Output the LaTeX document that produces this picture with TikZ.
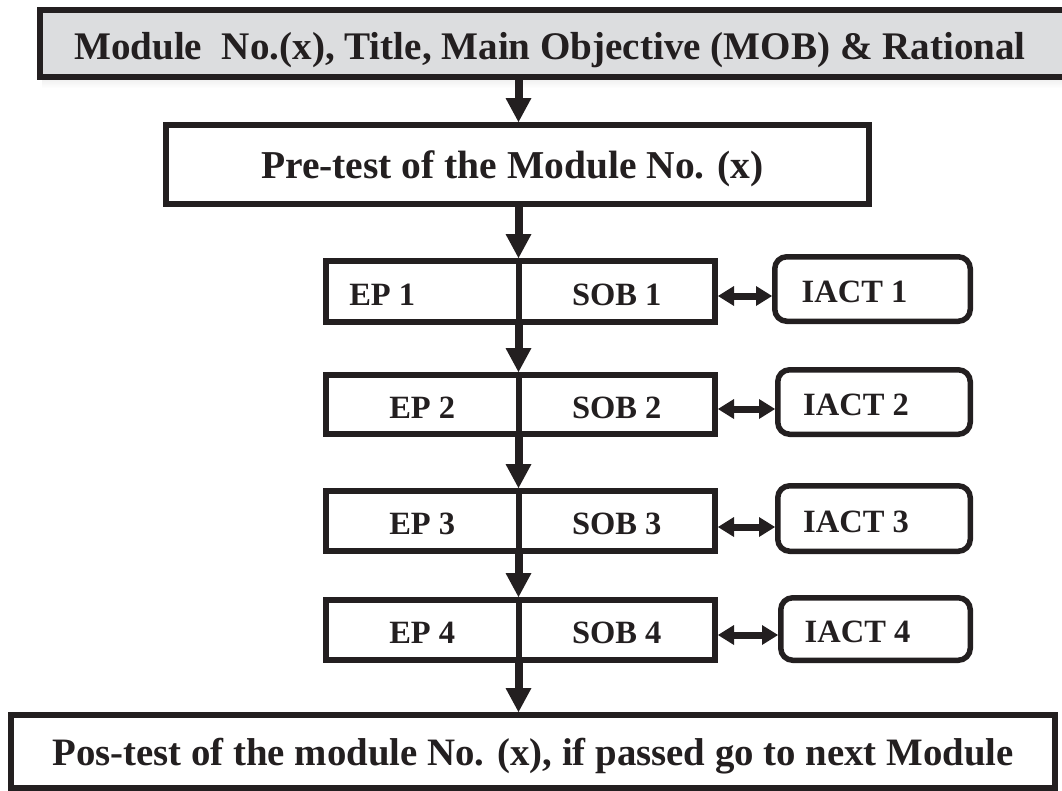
\documentclass[tikz,border=0pt]{standalone}
\usepackage{fontspec}
\setmainfont{Liberation Serif}
\usetikzlibrary{arrows.meta}
\definecolor{ink}{HTML}{231F20}
\definecolor{panel}{HTML}{DCDDDF}
\definecolor{shade}{HTML}{8A8B8D}
\newcommand\boxfontL{\fontsize{39.5}{44}\selectfont\bfseries}
\newcommand\boxfontT{\fontsize{39.1}{44}\selectfont\bfseries}
\newcommand\boxfontB{\fontsize{38.8}{44}\selectfont\bfseries}
\newcommand\boxfontS{\fontsize{32.5}{36}\selectfont\bfseries}

\begin{document}
\begin{tikzpicture}[
  x=1pt, y=-1pt,
  pad/.style={execute at end node={\hspace*{#1}}},
  bigbox/.style={draw=ink, line width=6pt, inner sep=0pt, outer sep=0pt,
    font=\boxfontL, text=ink, text height=28pt, text depth=0pt},
  half/.style={draw=ink, line width=6pt, inner sep=0pt, outer sep=0pt,
    font=\boxfontS, text=ink, text height=27.5pt, text depth=0pt},
  act/.style={draw=ink, line width=5.5pt, rounded corners=12pt, inner sep=0pt,
    outer sep=0pt, font=\boxfontS, text=ink, text height=27.5pt, text depth=0pt,
    pad=36pt},
  flow/.style={draw=ink, line width=8pt,
    -{Triangle[length=24pt,width=26pt,line width=0pt]}, shorten >=3pt},
  link/.style={draw=ink, line width=7pt,
    {Triangle[length=16pt,width=20pt,line width=0pt]}-{Triangle[length=16pt,width=20pt,line width=0pt]},
    shorten <=3pt, shorten >=2.75pt}
]
\clip (0,0) rectangle (1062,790);

% title bar with its drop shadow
\fill[shade] (42,15) rectangle (1090,88);
\node[bigbox, font=\boxfontT, fill=panel, minimum width=1037pt, minimum height=67pt,
  text height=31pt, pad=17pt] (head) at (558.5,43.5)
  {Module\ \ No.(x), Title, Main Objective (MOB) \& Rational};

% pre-test
\node[bigbox, fill=white, minimum width=703pt, minimum height=79pt, pad=10pt]
  (pre) at (517.5,164.5) {Pre-test of the Module No. (x)};

% EP / SOB rows
\node[half, minimum width=192.5pt, minimum height=61pt, pad=80pt] (ep1) at (422.25,291.5) {EP 1};
\node[half, minimum width=196.5pt, minimum height=61pt] (sob1) at (616.75,291.5) {SOB 1};
\node[half, minimum width=192.5pt, minimum height=59pt] (ep2) at (422.25,404.5) {EP 2};
\node[half, minimum width=196.5pt, minimum height=59pt] (sob2) at (616.75,404.5) {SOB 2};
\node[half, minimum width=192.5pt, minimum height=60pt] (ep3) at (422.25,521) {EP 3};
\node[half, minimum width=196.5pt, minimum height=60pt] (sob3) at (616.75,521) {SOB 3};
\node[half, minimum width=192.5pt, minimum height=60pt] (ep4) at (422.25,630) {EP 4};
\node[half, minimum width=196.5pt, minimum height=60pt] (sob4) at (616.75,630) {SOB 4};

% activity boxes
\node[act, minimum width=195.5pt, minimum height=64.5pt] (ia1) at (872.5,289) {IACT 1};
\node[act, minimum width=192.5pt, minimum height=64.5pt] (ia2) at (874,402) {IACT 2};
\node[act, minimum width=192.5pt, minimum height=65.5pt] (ia3) at (874,518.5) {IACT 3};
\node[act, minimum width=189.5pt, minimum height=62.5pt] (ia4) at (875.5,629) {IACT 4};

% post-test
\node[bigbox, font=\boxfontB, fill=white, minimum width=1044pt, minimum height=73pt]
  (post) at (533,751.5) {Pos-test of the module No. (x), if passed go to next Module};

% main flow
\draw[flow] (ep1.north east |- head.south) -- (ep1.north east |- pre.north);
\draw[flow] (ep1.north east |- pre.south) -- (ep1.north east);
\draw[flow] (ep1.south east) -- (ep2.north east);
\draw[flow] (ep2.south east) -- (ep3.north east);
\draw[flow] (ep3.south east) -- (ep4.north east);
\draw[flow] (ep4.south east) -- (ep4.south east |- post.north);

% two-way links to the activities
\coordinate (d1) at ([yshift=-4.5pt]sob1.east);
\coordinate (d2) at ([yshift=-4.5pt]sob2.east);
\coordinate (d3) at ([yshift=-6pt]sob3.east);
\coordinate (d4) at ([yshift=-5pt]sob4.east);
\draw[link] (d1) -- (d1 -| ia1.west);
\draw[link] (d2) -- (d2 -| ia2.west);
\draw[link] (d3) -- (d3 -| ia3.west);
\draw[link] (d4) -- (d4 -| ia4.west);
\end{tikzpicture}
\end{document}
